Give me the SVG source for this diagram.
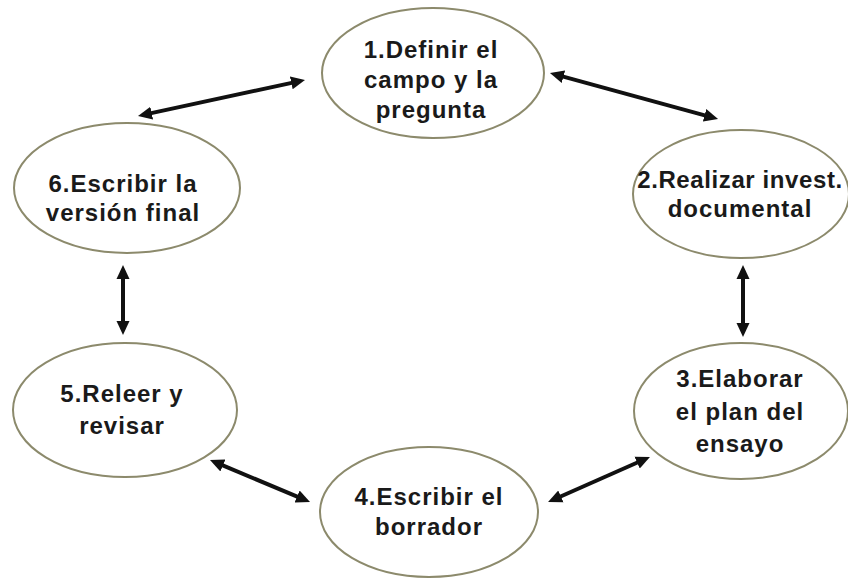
<svg xmlns="http://www.w3.org/2000/svg" width="848" height="580" viewBox="0 0 848 580">
<style>
.node ellipse{fill:#ffffff;stroke:#8c8a6c;stroke-width:2}
.node text{font-family:"Liberation Sans","Open Sans",sans-serif;font-weight:bold;font-size:24px;letter-spacing:1px;fill:#1a1a1a;text-anchor:middle}
.node text.tight{letter-spacing:0.6px}
.conn line{stroke:#111111;stroke-width:4;marker-start:url(#ah);marker-end:url(#ah)}
</style>
<defs>
<marker id="ah" markerUnits="userSpaceOnUse" markerWidth="16" markerHeight="14" refX="4" refY="7" orient="auto-start-reverse">
<path d="M0,0.5 L14,7 L0,13.5 z" fill="#111111"/>
</marker>
</defs>
<rect width="848" height="580" fill="#ffffff"/>
<g id="connectors" class="conn">
<line x1="147.8" y1="113.9" x2="295.2" y2="82.1"/>
<line x1="559.6" y1="75.6" x2="708.4" y2="116.4"/>
<line x1="743" y1="275" x2="743" y2="327"/>
<line x1="123" y1="275" x2="123" y2="325"/>
<line x1="219.2" y1="463.9" x2="300.8" y2="498.1"/>
<line x1="557.2" y1="498" x2="640.8" y2="461"/>
</g>
<g id="n1" class="node">
<ellipse cx="433" cy="73" rx="111" ry="65"/>
<text x="431" y="58">1.Definir el</text>
<text x="431" y="88">campo y la</text>
<text x="431" y="118">pregunta</text>
</g>
<g id="n2" class="node">
<ellipse cx="741" cy="194" rx="108" ry="64"/>
<text class="tight" x="740" y="188">2.Realizar invest.</text>
<text x="740" y="217">documental</text>
</g>
<g id="n3" class="node">
<ellipse cx="741" cy="411" rx="107" ry="68"/>
<text x="740" y="387">3.Elaborar</text>
<text x="740" y="420">el plan del</text>
<text x="740" y="452">ensayo</text>
</g>
<g id="n4" class="node">
<ellipse cx="429" cy="512" rx="109" ry="65"/>
<text x="429" y="505">4.Escribir el</text>
<text x="429" y="535">borrador</text>
</g>
<g id="n5" class="node">
<ellipse cx="125" cy="410" rx="112" ry="67"/>
<text x="122" y="402">5.Releer y</text>
<text x="122" y="434">revisar</text>
</g>
<g id="n6" class="node">
<ellipse cx="127" cy="188" rx="113" ry="65"/>
<text x="123" y="192">6.Escribir la</text>
<text x="123" y="221">versión final</text>
</g>
</svg>
